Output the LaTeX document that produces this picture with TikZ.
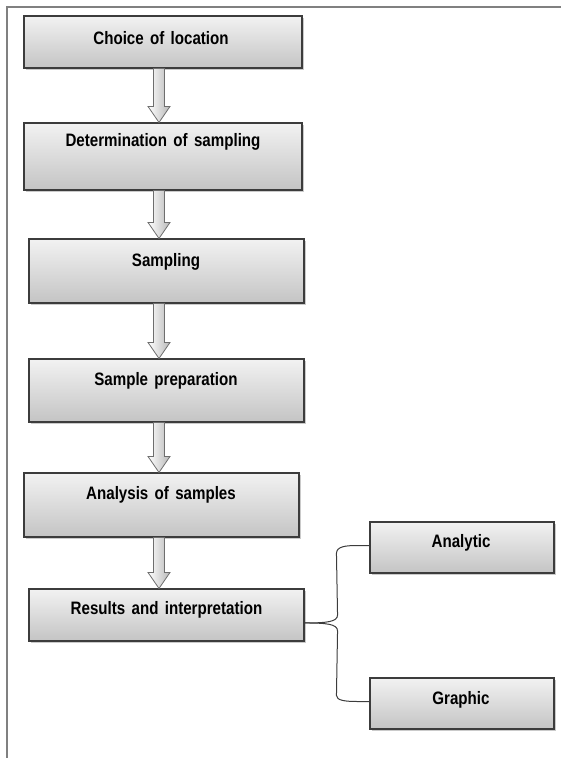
\documentclass[tikz,border=0pt]{standalone}
\usepackage{fontspec}
\setmainfont{Liberation Sans}[FakeStretch=0.84,WordSpace=1.5]
\usetikzlibrary{calc,shadows}
\definecolor{framegray}{RGB}{128,128,128}
\definecolor{boxedge}{RGB}{60,60,60}
\definecolor{boxtop}{RGB}{242,242,242}
\definecolor{boxbot}{RGB}{196,196,196}
\definecolor{arredge}{RGB}{110,110,110}
\tikzset{
  stepbox/.style={draw=boxedge, line width=1.1pt, top color=boxtop, bottom color=boxbot,
    rectangle, inner sep=0pt,
    drop shadow={shadow xshift=1.5pt, shadow yshift=-1.8pt, opacity=0.35, fill=black!60}},
  steptext/.style={font=\bfseries\fontsize{18}{20}\selectfont, text=black, inner sep=0pt, anchor=center},
  blockarr/.style={draw=arredge, line width=0.8pt, left color=white, right color=black!28},
  bracel/.style={draw=boxedge, line width=1pt},
}
\newcommand\boxat[6]{% name, x1, x2, y1, y2, text y, text
}
\newcommand\flowarrow[2]{%
  \path[blockarr] let \p1=(#1.south), \p2=(#2.north) in
    (153.5pt,\y1) -- (153.5pt,\y2+16pt) -- (148pt,\y2+16pt) -- (159pt,\y2)
    -- (170pt,\y2+16pt) -- (164.5pt,\y2+16pt) -- (164.5pt,\y1) -- cycle;}
\begin{document}
\begin{tikzpicture}[x=1pt,y=-1pt]
\useasboundingbox (0,0) rectangle (560,758);
% frame
\draw[framegray, line width=2pt] (7,759) -- (7,7) -- (561,7);
% boxes
\node[stepbox, minimum width=278pt, minimum height=52pt] (b1) at (163,42) {};
\node[stepbox, minimum width=278pt, minimum height=67pt] (b2) at (163,156.5) {};
\node[stepbox, minimum width=275pt, minimum height=64pt] (b3) at (166.5,271) {};
\node[stepbox, minimum width=275pt, minimum height=63pt] (b4) at (166.5,390.5) {};
\node[stepbox, minimum width=275pt, minimum height=64pt] (b5) at (161.5,505) {};
\node[stepbox, minimum width=275pt, minimum height=52pt] (b6) at (166.5,615) {};
\node[stepbox, minimum width=184pt, minimum height=51pt] (ba) at (462,547.5) {};
\node[stepbox, minimum width=184pt, minimum height=51pt] (bg) at (462,703.5) {};
% texts
\node[steptext] (t1) at (161,38) {Choice of location};
\node[steptext] (t2) at (163,142) {Determination of sampling};
\node[steptext] (t3) at (166,262) {Sampling};
\node[steptext] (t4) at (166,381) {Sample preparation};
\node[steptext] (t5) at (161,495) {Analysis of samples};
\node[steptext] (t6) at (166.5,610) {Results and interpretation};
\node[steptext] (ta) at (461,543) {Analytic};
\node[steptext] (tg) at (461,700) {Graphic};
% block arrows
\flowarrow{b1}{b2}
\flowarrow{b2}{b3}
\flowarrow{b3}{b4}
\flowarrow{b4}{b5}
\flowarrow{b5}{b6}
% bracket
\coordinate (tip) at ($(b6.south east)!0.35!(b6.north east)$);
\draw[bracel] (tip) .. controls ($(tip)+(22,0)$) and ($(tip)+(33,-1)$) .. ($(tip)+(33,-8)$)
  -- ($(ba.west)+(-33,6)$) .. controls ($(ba.west)+(-33,-1)$) and ($(ba.west)+(-24,-2)$) .. ($(ba.west)+(-12,-2)$) -- ($(ba.west)+(0,-2)$);
\draw[bracel] (tip) .. controls ($(tip)+(22,0)$) and ($(tip)+(33,1)$) .. ($(tip)+(33,8)$)
  -- ($(bg.west)+(-33,-8)$) .. controls ($(bg.west)+(-33,-3)$) and ($(bg.west)+(-24,-2)$) .. ($(bg.west)+(-12,-2)$) -- ($(bg.west)+(0,-2)$);
\end{tikzpicture}
\end{document}
